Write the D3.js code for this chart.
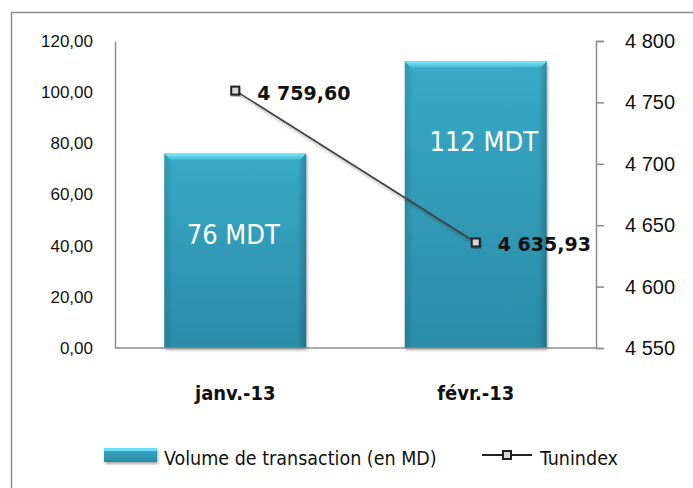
<!DOCTYPE html>
<html>
<head>
<meta charset="utf-8">
<script src="https://cdn.jsdelivr.net/npm/d3@7"></script>
<style>
  body { margin: 0; background: #fff; }
  svg { font-family: "DejaVu Sans Condensed", "DejaVu Sans", sans-serif; }
</style>
</head>
<body>
<div id="chart"></div>
<script>
// données
const months = ["janv.-13", "févr.-13"];
const volume = [76, 112];
const volumeLabels = ["76 MDT", "112 MDT"];
const tunindex = [4759.60, 4635.93];
const tunindexLabels = ["4 759,60", "4 635,93"];
const leftTicks = [0, 20, 40, 60, 80, 100, 120];
const rightTicks = [4550, 4600, 4650, 4700, 4750, 4800];

const W = 693, H = 488;
const pLeft = 115, pRight = 596, pTop = 41, pBottom = 348;

const svg = d3.select("#chart").append("svg")
  .attr("width", W).attr("height", H);

const defs = svg.append("defs");
const grad = defs.append("linearGradient").attr("id", "barGrad")
  .attr("x1", 0).attr("y1", 0).attr("x2", 0).attr("y2", 1);
grad.append("stop").attr("offset", "0%").attr("stop-color", "#38a9c8");
grad.append("stop").attr("offset", "100%").attr("stop-color", "#2a8ca6");
const side = defs.append("linearGradient").attr("id", "sideGrad")
  .attr("x1", 0).attr("y1", 0).attr("x2", 1).attr("y2", 0);
side.append("stop").attr("offset", "0%").attr("stop-color", "#000").attr("stop-opacity", 0.12);
side.append("stop").attr("offset", "6%").attr("stop-color", "#000").attr("stop-opacity", 0);
side.append("stop").attr("offset", "94%").attr("stop-color", "#000").attr("stop-opacity", 0);
side.append("stop").attr("offset", "100%").attr("stop-color", "#000").attr("stop-opacity", 0.2);
const bev = defs.append("linearGradient").attr("id", "bevGrad")
  .attr("x1", 0).attr("y1", 0).attr("x2", 0).attr("y2", 1);
bev.append("stop").attr("offset", "0%").attr("stop-color", "#7ae6fa");
bev.append("stop").attr("offset", "100%").attr("stop-color", "#45bcd8");
const shadow = defs.append("filter").attr("id", "shadow")
  .attr("x", "-20%").attr("y", "-20%").attr("width", "140%").attr("height", "140%");
shadow.append("feDropShadow").attr("dx", 1).attr("dy", 2).attr("stdDeviation", 1.5)
  .attr("flood-color", "#000").attr("flood-opacity", 0.35);

// cadre
svg.append("rect").attr("x", 11.5).attr("y", 12.5).attr("width", 700).attr("height", 500)
  .attr("fill", "none").attr("stroke", "#8c8c8c").attr("stroke-width", 1.5);

const x = d3.scaleBand().domain(months).range([pLeft, pRight]).paddingInner(0.41).paddingOuter(0.205);
const yL = d3.scaleLinear().domain([0, 120]).range([pBottom, pTop]);
const yR = d3.scaleLinear().domain([4550, 4800]).range([pBottom, pTop]);

// axes
const fmt2 = d3.formatLocale({ decimal: ",", thousands: " ", grouping: [3], currency: ["", ""] });
const axL = svg.append("g").attr("transform", `translate(${pLeft},0)`)
  .call(d3.axisLeft(yL).tickValues(leftTicks).tickSize(0).tickPadding(22).tickFormat(fmt2.format(".2f")));
axL.select(".domain").attr("stroke", "#8c8c8c").attr("stroke-width", 1.5);
axL.selectAll("text").attr("font-size", 17).attr("fill", "#111");

const axR = svg.append("g").attr("transform", `translate(${pRight},0)`)
  .call(d3.axisRight(yR).tickValues(rightTicks).tickSize(8).tickPadding(21).tickFormat(fmt2.format(",.0f")));
axR.select(".domain").attr("stroke", "#8c8c8c").attr("stroke-width", 1.5);
axR.selectAll("line").attr("stroke", "#8c8c8c").attr("stroke-width", 1.5);
axR.selectAll("text").attr("font-size", 20).attr("fill", "#111");

// barres
const bars = svg.append("g");
bars.selectAll("rect.bar").data(volume).join("rect").attr("class", "bar")
  .attr("x", (d, i) => x(months[i]))
  .attr("y", d => yL(d))
  .attr("width", x.bandwidth())
  .attr("height", d => pBottom - yL(d))
  .attr("fill", "url(#barGrad)")
  .attr("filter", "url(#shadow)");
bars.selectAll("rect.side").data(volume).join("rect").attr("class", "side")
  .attr("x", (d, i) => x(months[i]))
  .attr("y", d => yL(d))
  .attr("width", x.bandwidth())
  .attr("height", d => pBottom - yL(d))
  .attr("fill", "url(#sideGrad)");
bars.selectAll("path.bevel").data(volume).join("path").attr("class", "bevel")
  .attr("d", (d, i) => {
    const x0 = x(months[i]), x1 = x0 + x.bandwidth(), y0 = yL(d);
    return `M${x0},${y0}L${x1},${y0}L${x1 - 6},${y0 + 6}L${x0 + 6},${y0 + 6}Z`;
  })
  .attr("fill", "url(#bevGrad)");

// axe horizontal
svg.append("line").attr("x1", pLeft).attr("x2", pRight).attr("y1", pBottom).attr("y2", pBottom)
  .attr("stroke", "#8c8c8c").attr("stroke-width", 1.5);

// étiquettes des barres
svg.selectAll("text.vol").data(volume).join("text").attr("class", "vol")
  .attr("x", (d, i) => x(months[i]) + x.bandwidth() / 2 + (i ? 8 : -2))
  .attr("y", d => yL(d) + 90)
  .attr("text-anchor", "middle")
  .attr("font-size", 27).attr("fill", "#fff")
  .text((d, i) => volumeLabels[i]);

// catégories
svg.selectAll("text.cat").data(months).join("text").attr("class", "cat")
  .attr("x", d => x(d) + x.bandwidth() / 2)
  .attr("y", 400)
  .attr("text-anchor", "middle")
  .attr("font-size", 20).attr("font-weight", "bold").attr("fill", "#111")
  .text(d => d);

// ligne Tunindex
const cx = (d, i) => x(months[i]) + x.bandwidth() / 2;
const line = d3.line().x((d, i) => cx(d, i)).y(d => yR(d));
svg.append("path").datum(tunindex).attr("d", line)
  .attr("fill", "none").attr("stroke", "#404040").attr("stroke-width", 1.6)
  .attr("filter", "url(#shadow)");
svg.selectAll("rect.mk").data(tunindex).join("rect").attr("class", "mk")
  .attr("x", (d, i) => cx(d, i) - 4).attr("y", d => yR(d) - 4)
  .attr("width", 8).attr("height", 8)
  .attr("fill", "#d8d8d8").attr("stroke", "#222").attr("stroke-width", 2)
  .attr("filter", "url(#shadow)");
svg.selectAll("text.tun").data(tunindex).join("text").attr("class", "tun")
  .attr("x", (d, i) => cx(d, i) + 22)
  .attr("y", d => yR(d) + 9)
  .attr("font-family", "DejaVu Sans, sans-serif")
  .attr("font-size", 19).attr("font-weight", "bold").attr("fill", "#111")
  .text((d, i) => tunindexLabels[i]);

// légende
const lg = svg.append("g");
lg.append("rect").attr("x", 104).attr("y", 448).attr("width", 53).attr("height", 14)
  .attr("fill", "url(#barGrad)").attr("filter", "url(#shadow)");
lg.append("rect").attr("x", 104).attr("y", 448).attr("width", 53).attr("height", 3).attr("fill", "#6ee0f6");
lg.append("text").attr("x", 164).attr("y", 465).attr("font-size", 19.5).attr("fill", "#111")
  .text("Volume de transaction  (en MD)");
lg.append("line").attr("x1", 482).attr("x2", 532).attr("y1", 455).attr("y2", 455)
  .attr("stroke", "#222").attr("stroke-width", 2);
lg.append("rect").attr("x", 503).attr("y", 451).attr("width", 8).attr("height", 8)
  .attr("fill", "#d8d8d8").attr("stroke", "#222").attr("stroke-width", 2);
lg.append("text").attr("x", 540).attr("y", 465).attr("font-size", 19.5).attr("fill", "#111")
  .text("Tunindex");
</script>
</body>
</html>
